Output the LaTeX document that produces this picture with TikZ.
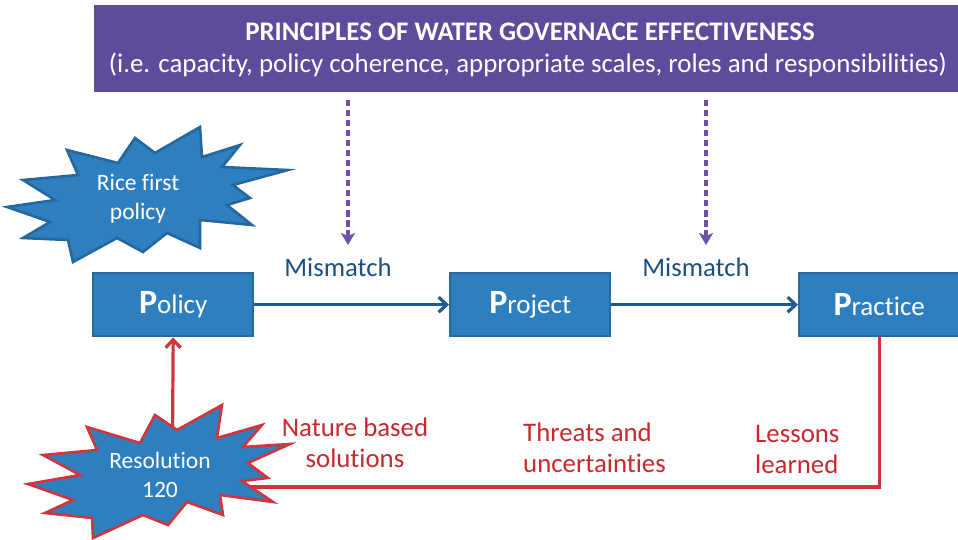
\documentclass[tikz,border=0pt]{standalone}
\usepackage{fontspec}
\setmainfont{Carlito}[Ligatures=NoCommon]
\usetikzlibrary{arrows.meta}

\definecolor{banner}{HTML}{5F4B9C}
\definecolor{dashpurple}{HTML}{6E52AA}
\definecolor{boxblue}{HTML}{2E7FC0}
\definecolor{boxedge}{HTML}{286A9F}
\definecolor{flowblue}{HTML}{1F5B8F}
\definecolor{labelblue}{HTML}{1F4F7F}
\definecolor{redline}{HTML}{D1343A}
\definecolor{redtext}{HTML}{C8282E}
\definecolor{burstedge}{HTML}{24679F}

\newcommand{\pword}[2]{{\fontsize{34}{34}\selectfont\bfseries #1}{\fontsize{27}{27}\selectfont #2}}

\begin{document}
\begin{tikzpicture}[x=1pt,y=-1pt,
  pbox/.style={draw=boxedge, fill=boxblue, line width=2.4pt, minimum width=160pt,
    minimum height=63pt, text=white, inner sep=0pt, anchor=north west},
  tip/.style={-{Straight Barb[length=8pt,width=15pt,line width=3.2pt]}},
  flow/.style={draw=flowblue, line width=3.2pt, tip},
  principle/.style={draw=dashpurple, line width=3.2pt, dash pattern=on 6.5pt off 3.5pt,
    -{Stealth[length=12pt,width=14pt,inset=3pt]}},
  feedback/.style={draw=redline, line width=3.2pt},
  mismatchlbl/.style={text=labelblue, font=\fontsize{26.7}{26.7}\selectfont},
  redlbl/.style={text=redtext, font=\fontsize{26.8}{31}\selectfont, inner sep=0pt},
  burstlbl/.style={text=white, font=\fontsize{23.5}{29}\selectfont, align=center, inner sep=0pt},
  burst/.style={fill=boxblue, line width=2.6pt, line join=miter, miter limit=20}
]
\useasboundingbox (0,0) rectangle (958,540);

% banner with the governance principles
\node (banner) [fill=banner, minimum width=870pt, minimum height=87pt, inner sep=0pt,
  anchor=north west] at (94,5) {};
\node (title) [text=white, font=\fontsize{26.8}{26.8}\selectfont\bfseries] at (530,32)
  {PRINCIPLES OF WATER GOVERNACE EFFECTIVENESS};
\node (subtitle) [text=white, font=\fontsize{26.9}{26.9}\selectfont] at (528,65)
  {(i.e. capacity, policy coherence, appropriate scales, roles and responsibilities)};

% the three P boxes
\node (policy)   [pbox] at (92,272)  {\pword{P}{olicy}};
\node (project)  [pbox] at (449,272) {\pword{P}{roject}};
\node (practice) [pbox] at (798,272) {\pword{P}{ractice}};

% flow between the boxes
\draw[flow] (policy) -- (project);
\draw[flow] (project) -- (practice);

% dashed arrows from the banner
\coordinate (dashA1) at (348,100);
\coordinate (dashA2) at (348,245);
\coordinate (dashB1) at (706,100);
\coordinate (dashB2) at (706,245);
\draw[principle] (dashA1) -- (dashA2);
\draw[principle] (dashB1) -- (dashB2);

\node (mis1) [mismatchlbl] at (338,267) {Mismatch};
\node (mis2) [mismatchlbl] at (696,267) {Mismatch};

% feedback loop from practice back to the resolution
\coordinate (resHook) at (240,487);
\coordinate (resTop) at (172.5,440);
\draw[feedback] (practice.south) |- (resHook);
\draw[feedback, tip] (resTop) -- (policy.south);

\node (nbs) [redlbl, align=center] at (355,443) {Nature based\\solutions};
\node (threats) [redlbl, align=left, anchor=west] at (523,448) {Threats and\\uncertainties};
\node (lessons) [redlbl, align=left, anchor=west] at (755,449) {Lessons\\learned};

% starburst: rice first policy
\draw[burst, draw=burstedge]
  (7,207) -- (55,200) -- (23,180) -- (78,175) -- (67,150) -- (118,163) -- (135,138)
  -- (155,153) -- (200,127) -- (202,157) -- (240,145) -- (222,167) -- (288,170)
  -- (233,185) -- (250,198) -- (227,205) -- (252,225) -- (200,220) -- (200,248)
  -- (167,233) -- (143,252) -- (117,238) -- (73,262) -- (68,240) -- (23,238)
  -- (50,222) -- cycle;
\node (rice) [burstlbl] at (138,199) {Rice first\\policy};

% starburst: resolution 120
\draw[burst, draw=redline]
  (28,484) -- (80,475) -- (43,455) -- (97,450) -- (87,427) -- (140,443) -- (155,415)
  -- (177,430) -- (222,405) -- (217,438) -- (262,425) -- (243,447) -- (290,444)
  -- (248,463) -- (268,478) -- (242,481) -- (273,502) -- (220,495) -- (223,515)
  -- (187,502) -- (168,525) -- (143,515) -- (93,538) -- (92,518) -- (45,513)
  -- (73,500) -- cycle;
\node (resolution) [burstlbl] at (160,475) {Resolution\\120};

\end{tikzpicture}
\end{document}
